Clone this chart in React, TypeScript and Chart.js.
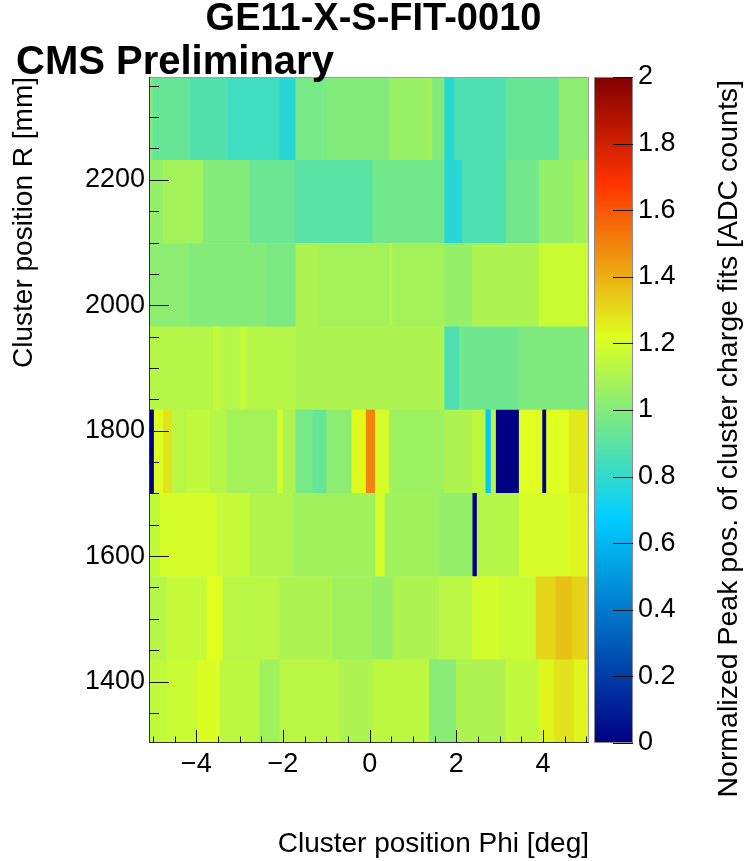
import React, { useEffect, useRef } from "react";
import { Chart, registerables } from "chart.js";

Chart.register(...registerables);

const FONT = '"Liberation Sans", Arial, Helvetica, sans-serif';

// ---------------- data ----------------
const chartTitle = "GE11-X-S-FIT-0010";
const cmsLabel = "CMS Preliminary";
const xTitle = "Cluster position Phi [deg]";
const yTitle = "Cluster position R [mm]";
const zTitle = "Normalized Peak pos. of cluster charge fits [ADC counts]";

const phiRange = [-5.09, 5.06];
const rRange = [1302, 2364];
const zRange = [0, 2];

// eta-partition boundaries in R (ascending)
const rEdges = [1302, 1434.75, 1567.5, 1700.25, 1833, 1965.75, 2098.5, 2231.25, 2364];

// eta 1 = top partition ... eta 8 = bottom partition
const phiEdgesEta1 = [-5.09, -5.0, -4.14, -3.27, -2.07, -1.7, -0.99, 0.46, 1.31, 1.45, 1.73, 1.96, 3.15, 4.37, 5.06];
const valuesEta1 = [1.0, 0.93, 0.88, 0.83, 0.78, 0.97, 1.0, 1.05, 1.08, 1.0, 0.78, 0.87, 0.93, 1.02];

const phiEdgesEta2 = [-5.09, -4.76, -3.84, -2.76, -1.7, 0.07, 1.73, 2.14, 3.15, 3.91, 4.72, 5.06];
const valuesEta2 = [1.04, 1.08, 1.0, 0.94, 0.9, 0.96, 0.78, 0.87, 0.96, 1.04, 1.07];

const phiEdgesEta3 = [-5.09, -4.14, -2.37, -1.7, -1.15, 0.46, 0.53, 1.73, 2.37, 3.91, 5.06];
const valuesEta3 = [1.02, 1.0, 0.98, 1.1, 1.08, 1.13, 1.08, 1.04, 1.1, 1.17];

const phiEdgesEta4 = [-5.09, -3.61, -3.45, -2.99, -2.83, -1.7, 1.73, 2.07, 3.45, 5.06];
const valuesEta4 = [1.12, 1.16, 1.12, 1.16, 1.12, 1.1, 0.87, 0.95, 0.99];

const phiEdgesEta5 = [-5.09, -4.97, -4.76, -4.55, -4.21, -3.68, -3.29, -2.12, -2.0, -1.7, -1.31, -0.99, -0.41, -0.08, 0.13, 0.46, 1.73, 2.37, 2.68, 2.8, 2.92, 3.45, 3.99, 4.08, 4.6, 5.06];
const valuesEta5 = [0.0, 1.22, 1.28, 1.13, 1.15, 1.12, 1.08, 1.2, 1.1, 0.97, 0.93, 1.02, 1.23, 1.5, 1.2, 1.06, 1.1, 1.14, 0.66, 1.12, 0.0, 1.22, 0.0, 1.22, 1.27];

const phiEdgesEta6 = [-5.09, -4.83, -3.52, -2.76, -1.77, 0.14, 0.35, 1.61, 2.38, 2.48, 3.45, 4.6, 5.06];
const valuesEta6 = [1.15, 1.2, 1.16, 1.11, 1.07, 1.2, 1.07, 1.04, 0.0, 1.12, 1.2, 1.24];

const phiEdgesEta7 = [-5.09, -4.67, -3.75, -3.38, -2.07, -0.85, 0.07, 0.53, 1.61, 2.37, 2.99, 3.84, 4.3, 4.67, 5.06];
const valuesEta7 = [1.12, 1.16, 1.22, 1.13, 1.1, 1.07, 1.04, 1.1, 1.13, 1.19, 1.17, 1.31, 1.36, 1.32];

const phiEdgesEta8 = [-5.09, -4.67, -3.98, -3.45, -2.53, -2.07, -0.69, 0.07, 1.38, 2.0, 3.15, 3.91, 4.26, 4.72, 5.06];
const valuesEta8 = [1.15, 1.17, 1.21, 1.14, 1.07, 1.13, 1.1, 1.14, 1.01, 1.1, 1.15, 1.24, 1.28, 1.24];

const etaRows = [
  { edges: phiEdgesEta1, values: valuesEta1 },
  { edges: phiEdgesEta2, values: valuesEta2 },
  { edges: phiEdgesEta3, values: valuesEta3 },
  { edges: phiEdgesEta4, values: valuesEta4 },
  { edges: phiEdgesEta5, values: valuesEta5 },
  { edges: phiEdgesEta6, values: valuesEta6 },
  { edges: phiEdgesEta7, values: valuesEta7 },
  { edges: phiEdgesEta8, values: valuesEta8 },
];

// ---------------- palette ----------------
const palStops = [0, 0.34, 0.61, 0.84, 1.0];
const palRed = [0, 0, 0.87, 1, 0.51];
const palGreen = [0, 0.81, 1, 0.2, 0];
const palBlue = [0.51, 1, 0.12, 0, 0];

function palRGB(t: number) {
  const u = Math.max(0, Math.min(1, t));
  let i = 0;
  while (i < palStops.length - 2 && u > palStops[i + 1]) i++;
  const f = (u - palStops[i]) / (palStops[i + 1] - palStops[i]);
  const r = palRed[i] + (palRed[i + 1] - palRed[i]) * f;
  const g = palGreen[i] + (palGreen[i + 1] - palGreen[i]) * f;
  const b = palBlue[i] + (palBlue[i + 1] - palBlue[i]) * f;
  return `rgb(${Math.round(r * 255)},${Math.round(g * 255)},${Math.round(b * 255)})`;
}
function paletteColor(v: number) {
  return palRGB((v - zRange[0]) / (zRange[1] - zRange[0]));
}

// ---------------- plugins ----------------
const decorPlugin = {
  id: "decor",
  afterDatasetsDraw(chart: any) {
    const { ctx, chartArea: a, scales } = chart;
    const xs = scales.x;
    const ys = scales.y;
    const zs = scales.cbar;
    ctx.save();

    // frame
    ctx.lineWidth = 1;
    ctx.strokeStyle = "#a0a0a0";
    ctx.strokeRect(a.left + 0.5, a.top + 0.5, a.right - a.left - 1, a.bottom - a.top - 1);

    // axis lines
    ctx.strokeStyle = "#333";
    ctx.beginPath();
    ctx.moveTo(a.left + 0.5, a.top);
    ctx.lineTo(a.left + 0.5, a.bottom);
    ctx.moveTo(a.left, a.bottom - 0.5);
    ctx.lineTo(a.right, a.bottom - 0.5);
    ctx.stroke();

    // ticks (inside the frame)
    ctx.strokeStyle = "#111";
    ctx.beginPath();
    for (let i = -10; i <= 10; i++) {
      const v = i * 0.5;
      const px = Math.round(xs.getPixelForValue(v)) + 0.5;
      if (px < a.left || px > a.right) continue;
      const len = i % 4 === 0 ? 13 : 6.5;
      ctx.moveTo(px, a.bottom);
      ctx.lineTo(px, a.bottom - len);
    }
    for (let v = 1350; v <= 2350; v += 50) {
      const py = Math.round(ys.getPixelForValue(v)) + 0.5;
      const len = v % 200 === 0 ? 20 : 10;
      ctx.moveTo(a.left, py);
      ctx.lineTo(a.left + len, py);
    }
    ctx.stroke();

    // colour bar
    const x0 = a.right + 5;
    const x1 = a.right + 44;
    const yTop = zs.getPixelForValue(zRange[1]);
    const yBot = zs.getPixelForValue(zRange[0]);
    const grad = ctx.createLinearGradient(0, yBot, 0, yTop);
    for (let i = 0; i < palStops.length; i++) grad.addColorStop(palStops[i], palRGB(palStops[i]));
    ctx.fillStyle = grad;
    ctx.fillRect(x0, yTop, x1 - x0, yBot - yTop);
    ctx.strokeStyle = "#8a8a8a";
    ctx.strokeRect(x0 + 0.5, yTop + 0.5, x1 - x0 - 1, yBot - yTop - 1);
    ctx.strokeStyle = "#111";
    ctx.beginPath();
    for (let i = 0; i <= 10; i++) {
      const py = Math.round(zs.getPixelForValue(i * 0.2)) + 0.5;
      ctx.moveTo(x1 - 20, py);
      ctx.lineTo(x1, py);
    }
    ctx.stroke();

    // colour bar title
    ctx.fillStyle = "#000";
    ctx.font = `28.5px ${FONT}`;
    ctx.translate(729, a.top + 3);
    ctx.rotate(-Math.PI / 2);
    ctx.textAlign = "right";
    ctx.textBaseline = "middle";
    ctx.fillText(zTitle, 0, 0);
    ctx.restore();
  },
  afterDraw(chart: any) {
    const { ctx } = chart;
    ctx.save();
    ctx.fillStyle = "#000";
    ctx.font = `bold 40px ${FONT}`;
    ctx.textAlign = "left";
    ctx.textBaseline = "alphabetic";
    ctx.fillText(cmsLabel, 16, 74);
    ctx.restore();
  },
};

export default function App() {
  const ref = useRef<HTMLCanvasElement | null>(null);

  useEffect(() => {
    if (!ref.current) return;
    const cells: any[] = [];
    etaRows.forEach((row, k) => {
      const lo = rEdges[rEdges.length - 2 - k];
      const hi = rEdges[rEdges.length - 1 - k];
      for (let i = 0; i < row.values.length; i++) {
        cells.push({ y: (lo + hi) / 2, x: [row.edges[i], row.edges[i + 1]], v: row.values[i] });
      }
    });

    const tickFont = { family: FONT, size: 27 };
    const titleFont = { family: FONT, size: 28 };

    const chart = new Chart(ref.current, {
      type: "bar",
      data: {
        datasets: [
          {
            data: cells,
            backgroundColor: (c: any) => paletteColor(c.raw ? c.raw.v : 0),
            borderWidth: 0,
            barPercentage: 1,
            categoryPercentage: 1,
          } as any,
        ],
      },
      options: {
        animation: false,
        responsive: false,
        events: [],
        indexAxis: "y",
        layout: { padding: 0 },
        color: "#000",
        plugins: {
          legend: { display: false },
          tooltip: { enabled: false },
          title: {
            display: true,
            text: chartTitle,
            color: "#000",
            font: { family: FONT, size: 38, weight: "bold", lineHeight: 1 },
            padding: { top: 1, bottom: 38 },
          },
        },
        scales: {
          x: {
            type: "linear",
            position: "bottom",
            min: phiRange[0],
            max: phiRange[1],
            offset: false,
            grid: { display: false, drawTicks: false, offset: false },
            border: { display: false },
            ticks: {
              stepSize: 2,
              includeBounds: false,
              padding: 5,
              color: "#000",
              font: tickFont,
              maxRotation: 0,
              callback: (v: any) => (v < 0 ? "\u2212" + Math.abs(v) : String(v)),
            },
            title: { display: true, text: xTitle, align: "end", color: "#000", font: titleFont, padding: { top: 0, bottom: 0 } },
            afterFit: (s: any) => {
              s.height = 118;
            },
          },
          y: {
            type: "linear",
            position: "left",
            min: rRange[0],
            max: rRange[1],
            offset: false,
            grid: { display: false, drawTicks: false, offset: false },
            border: { display: false },
            ticks: {
              stepSize: 200,
              includeBounds: false,
              padding: 4,
              color: "#000",
              font: tickFont,
              callback: (v: any) => String(v),
            },
            title: { display: true, text: yTitle, align: "end", color: "#000", font: titleFont, padding: { top: 7, bottom: 0 } },
            afterFit: (s: any) => {
              s.width = 149;
            },
          },
          cbar: {
            type: "linear",
            axis: "y",
            position: "right",
            min: zRange[0],
            max: zRange[1],
            offset: false,
            grid: { display: false, drawTicks: false, offset: false },
            border: { display: false },
            ticks: {
              stepSize: 0.2,
              padding: 49,
              color: "#000",
              font: tickFont,
              callback: (v: any) => String(Math.round(v * 10) / 10),
            },
            afterFit: (s: any) => {
              s.width = 158;
            },
          },
        } as any,
      },
      plugins: [decorPlugin],
    } as any);

    return () => chart.destroy();
  }, []);

  return (
    <div style={{ position: "fixed", left: 0, top: 0, width: 747, height: 861, background: "#fff" }}>
      <canvas ref={ref} width={747} height={861} style={{ width: 747, height: 861, display: "block" }} />
    </div>
  );
}
